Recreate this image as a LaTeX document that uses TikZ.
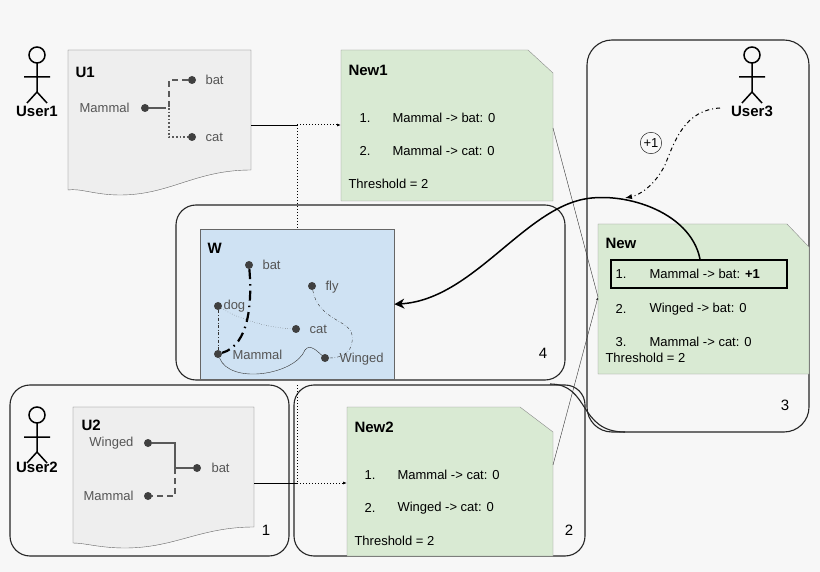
\documentclass[tikz,border=0pt]{standalone}
\usepackage{fontspec}
\setmainfont{Liberation Sans}
\usetikzlibrary{arrows.meta}
\definecolor{bgrey}{HTML}{F7F7F7}
\definecolor{docgrey}{HTML}{EEEEEE}
\definecolor{newgreen}{HTML}{D9EAD3}
\definecolor{wblue}{HTML}{CFE2F3}
\definecolor{txtgrey}{HTML}{555555}
\tikzset{
  user/.pic={\draw[line width=1.5pt] (0,-3) circle (8) (0,5) -- (0,34) (-13,19) -- (13,19)
    (-10,45) -- (0,34) -- (10,45);},
  dot/.style={circle,fill=black!75,inner sep=0pt,minimum size=8pt},
  lbl/.style={font=\fontsize{13}{15}\selectfont,text=txtgrey},
  item/.style={font=\fontsize{13}{15}\selectfont,anchor=west},
  ttl/.style={font=\bfseries\fontsize{15}{17}\selectfont,anchor=west},
  who/.style={font=\bfseries\fontsize{15}{17}\selectfont},
  zone/.style={rounded corners=20pt,line width=1.1pt,black!85},
  newbox/.style={fill=newgreen,draw=black!45},
  docbox/.style={fill=docgrey,draw=black!60},
  branch/.style={black!65,line width=1.6pt}
}
\begin{document}
\begin{tikzpicture}[x=1pt,y=-1pt]
\fill[bgrey] (0,0) rectangle (820,572);
\useasboundingbox (0,0) rectangle (820,572);
% zones
\draw[zone] (176,205) rectangle (565,380);
\draw[zone,rounded corners=25pt] (587,40) rectangle (809,432);
\draw[zone] (10,385) rectangle (289,556);
\draw[zone] (294,385) rectangle (585,556);
\draw[line width=1.1pt,black!85] (550,384) .. controls (590,384) and (578,432) .. (625,432);
\node[font=\fontsize{15}{17}\selectfont] at (543,353) {4};
\node[font=\fontsize{15}{17}\selectfont] at (785,405) {3};
\node[font=\fontsize{15}{17}\selectfont] at (266,530) {1};
\node[font=\fontsize{15}{17}\selectfont] at (569,530) {2};
% users
\pic at (37,58) {user}; \node[who] at (37,111) {User1};
\pic at (37,418) {user}; \node[who] at (37,467) {User2};
\pic at (752,58) {user}; \node[who] (u3) at (752,111) {User3};
% U1
\draw[docbox] (68,50) -- (251,50) -- (251,170) .. controls (195,170) and (170,195) .. (120,195)
  .. controls (95,195) and (80,188) .. (68,190) -- cycle;
\node[ttl] at (72,72) {U1};
\node[dot] (m1) at (145,108) {}; \node[lbl,anchor=east] at (133,108) {Mammal};
\node[dot] (b1) at (192,80) {}; \node[lbl,anchor=west] at (202,80) {bat};
\node[dot] (c1) at (192,137) {}; \node[lbl,anchor=west] at (202,137) {cat};
\coordinate (j1) at (169,108);
\draw[branch] (m1) -- (160,108);
\draw[branch,dash pattern=on 6pt off 4pt] (160,108) -- (j1) |- (b1);
\draw[branch,dotted] (j1) |- (c1);
% U2
\draw[docbox] (73,407) -- (254,407) -- (254,527) .. controls (200,527) and (175,548) .. (125,548)
  .. controls (100,548) and (85,543) .. (73,543) -- cycle;
\node[ttl] at (78,425) {U2};
\node[dot] (w2) at (148,443) {}; \node[lbl,anchor=east] at (137,443) {Winged};
\node[dot] (b2) at (197,468) {}; \node[lbl,anchor=west] at (208,468) {bat};
\node[dot] (m2) at (148,496) {}; \node[lbl,anchor=east] at (137,496) {Mammal};
\coordinate (j2) at (175,468);
\draw[branch] (w2) -| (j2) -- (b2);
\draw[branch,dash pattern=on 6pt off 4pt] (j2) |- (m2);
% W
\node[fill=wblue,draw=black!60,minimum width=194pt,minimum height=150pt,anchor=north west] (W) at (200,229) {};
\node[ttl] at (204,248) {W};
\node[dot] (wbat) at (249,265) {}; \node[lbl,anchor=west] at (259,265) {bat};
\node[dot] (wfly) at (312,286) {}; \node[lbl,anchor=west] at (322,287) {fly};
\node[dot] (wdog) at (218,306) {}; \node[lbl,anchor=west] at (220,306) {dog};
\node[dot] (wcat) at (296,329) {}; \node[lbl,anchor=west] at (306,329) {cat};
\node[dot] (wmam) at (218,354) {}; \node[lbl,anchor=west] at (229,355) {Mammal};
\node[dot] (wwin) at (325,358) {}; \node[lbl,anchor=west] at (336,359) {Winged};
\draw[line width=2.2pt,dash pattern=on 10pt off 5pt on 1.5pt off 5pt] (wbat) .. controls (252,300) and (250,345) .. (wmam);
\draw[dotted,black!70] (wdog) .. controls (240,320) and (270,328) .. (wcat);
\draw[dash dot,black!80] (wdog) -- (wmam);
\draw[dash dot,black!80] (wfly) .. controls (318,320) and (350,320) .. (352,335) .. controls (354,350) and (345,358) .. (wwin);
\draw[black!80] (wmam) .. controls (230,385) and (295,375) .. (305,350) .. controls (310,343) and (318,352) .. (wwin);
% New1
\draw[newbox] (341,50) -- (528,50) -- (553,73) -- (553,201) -- (341,201) -- cycle;
\coordinate (n1e) at (553,128);
\node[ttl] at (345,70) {New1};
\node[item] at (356,118) {1.}; \node[item] at (389,118) {Mammal -> bat: 0};
\node[item] at (356,151) {2.}; \node[item] at (389,151) {Mammal -> cat: 0};
\node[item] at (345,184) {Threshold = 2};
% New2
\draw[newbox] (347,407) -- (520,407) -- (553,432) -- (553,556) -- (347,556) -- cycle;
\coordinate (n2e) at (553,465);
\node[ttl] at (351,427) {New2};
\node[item] at (361,475) {1.}; \node[item] at (394,475) {Mammal -> cat: 0};
\node[item] at (361,508) {2.}; \node[item] at (394,508) {Winged -> cat: 0};
\node[item] at (351,541) {Threshold = 2};
% New
\draw[newbox] (598,224) -- (787,224) -- (809,247) -- (809,374) -- (598,374) -- cycle;
\coordinate (nw) at (598,297);
\node[ttl] at (602,243) {New};
\node[draw,line width=1.8pt,minimum width=176pt,minimum height=28pt,anchor=north west] (hl) at (610,259) {};
\node[item] at (612,274) {1.}; \node[item] at (646,274) {Mammal -> bat: \textbf{+1}};
\node[item] at (612,309) {2.}; \node[item] at (646,309) {Winged -> bat: 0};
\node[item] at (612,342) {3.}; \node[item] at (646,342) {Mammal -> cat: 0};
\node[item] at (602,358) {Threshold = 2};
% flows
\coordinate (d1) at (297,125);
\coordinate (d2) at (297,483);
\draw (251,125) -- (d1);
\draw[dotted,line width=1pt,-{Latex[length=4pt]}] (d1) -- (341,125);
\draw[dotted,line width=1pt] (d1) -- (W.north -| d1);
\draw (254,483) -- (d2);
\draw[dotted,line width=1pt,-{Latex[length=4pt]}] (d2) -- (347,483);
\draw[dotted,line width=1pt] (297,385) -- (d2);
\draw[black!80] (n1e) -- (nw);
\draw[black!80,-{Latex[length=3pt]}] (n2e) -- (nw);
\node[draw,circle,inner sep=1.5pt,font=\fontsize{13}{15}\selectfont] (p1) at (651,143) {+1};
\draw[line width=1pt,dash pattern=on 4pt off 3pt on 1pt off 3pt,-{Latex[length=7pt]}] (720,108) .. controls (685,110) and (675,140) .. (665,165) .. controls (655,185) and (640,195) .. (625,198);
\draw[line width=1.5pt,-{Stealth[length=10pt,width=10pt]}] (hl.north -| 700,0) .. controls (690,210) and (620,190) .. (580,200) .. controls (520,215) and (470,300) .. (W.east);
\end{tikzpicture}
\end{document}
